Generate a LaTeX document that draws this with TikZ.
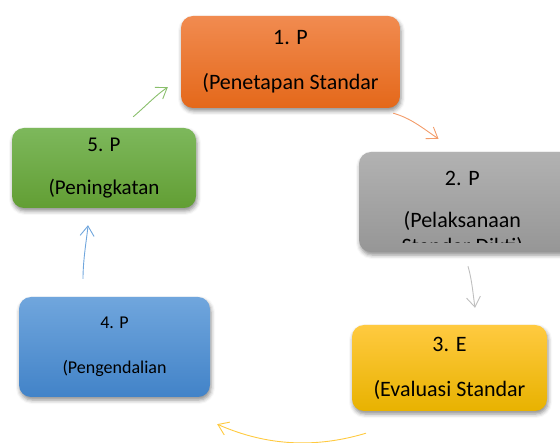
\documentclass[tikz,border=0pt]{standalone}
\usepackage{fontspec}
\setmainfont{Carlito}
\usetikzlibrary{arrows.meta,shadows.blur,calc}
\definecolor{orangeTop}{RGB}{241,139,80}
\definecolor{orangeBot}{RGB}{228,104,26}
\definecolor{grayTop}{RGB}{178,178,178}
\definecolor{grayBot}{RGB}{150,150,150}
\definecolor{yellowTop}{RGB}{255,202,64}
\definecolor{yellowBot}{RGB}{232,178,0}
\definecolor{blueTop}{RGB}{112,166,221}
\definecolor{blueBot}{RGB}{66,131,200}
\definecolor{greenTop}{RGB}{125,184,92}
\definecolor{greenBot}{RGB}{98,158,52}
\tikzstyle{Phase}=[shape=rectangle, rounded corners=12pt, draw=none, text=black, align=center, inner sep=0pt,
  font=\fontsize{22}{26}\selectfont,
  blur shadow={shadow xshift=1pt, shadow yshift=-3pt, shadow blur radius=4pt, shadow opacity=45}]
\tikzstyle{flow}=[line width=0.9pt, -{Straight Barb[length=10pt,width=14pt]}]

\begin{document}
\begin{tikzpicture}[x=1pt, y=-1pt]
	\useasboundingbox (0,0) rectangle (560,443);
	% phase boxes
	\node [style=Phase, top color=orangeTop, bottom color=orangeBot, minimum width=219pt, minimum height=92pt] (penetapan) at (290.5,62) {1. P\\[19pt](Penetapan Standar};
	\node [style=Phase, top color=grayTop, bottom color=grayBot, minimum width=217pt, minimum height=100pt] (pelaksanaan) at (467.5,202) {};
	\node [style=Phase, top color=yellowTop, bottom color=yellowBot, minimum width=195pt, minimum height=86pt] (evaluasi) at (449.5,368) {3. E\\[19pt](Evaluasi Standar};
	\node [style=Phase, top color=blueTop, bottom color=blueBot, minimum width=191pt, minimum height=100pt, font=\fontsize{18}{22}\selectfont] (pengendalian) at (114.5,347) {4. P\\[23pt](Pengendalian};
	\node [style=Phase, top color=greenTop, bottom color=greenBot, minimum width=184pt, minimum height=80pt, font=\fontsize{21}{25}\selectfont] (peningkatan) at (104,168) {5. P\\[18pt](Peningkatan};
	% text of box 2, cut off at the bottom
	\begin{scope}
		\clip (pelaksanaan.north west) rectangle ($(pelaksanaan.south east)+(0,-10)$);
		\node [align=center, inner sep=0pt, anchor=north, font=\fontsize{22}{26}\selectfont] (pelaksanaan_text) at ($(pelaksanaan.north west)+(103.5,19)$) {2. P\\[16pt](Pelaksanaan\\Standar Dikti)};
	\end{scope}
	% cycle arrows
	\draw [style=flow, draw=orangeTop!85] ($(penetapan.south east)+(-7,5)$) .. controls +(18,5) and +(-15,-10) .. ($(pelaksanaan.north)+(-29,-13)$);
	\draw [style=flow, draw=black!25] ($(pelaksanaan.south)+(0.5,14)$) .. controls +(4,14) and +(-2,-14) .. ($(evaluasi.north)+(25.5,-17)$);
	\draw [style=flow, draw=yellowTop] ($(evaluasi.south)+(-83.5,22)$) .. controls +(-50,15) and +(50,22) .. ($(pengendalian.south east)+(7,27)$);
	\draw [style=flow, draw=blueTop] ($(pengendalian.north)+(-31.5,-18)$) .. controls +(0,-20) and +(-1,12) .. ($(peningkatan.south)+(-16,17)$);
	\draw [style=flow, draw=greenTop!90] ($(peningkatan.north east)+(-63,-11)$) .. controls +(14,-12) and +(-12,8) .. ($(penetapan.south west)+(-13,-21)$);
\end{tikzpicture}
\end{document}
